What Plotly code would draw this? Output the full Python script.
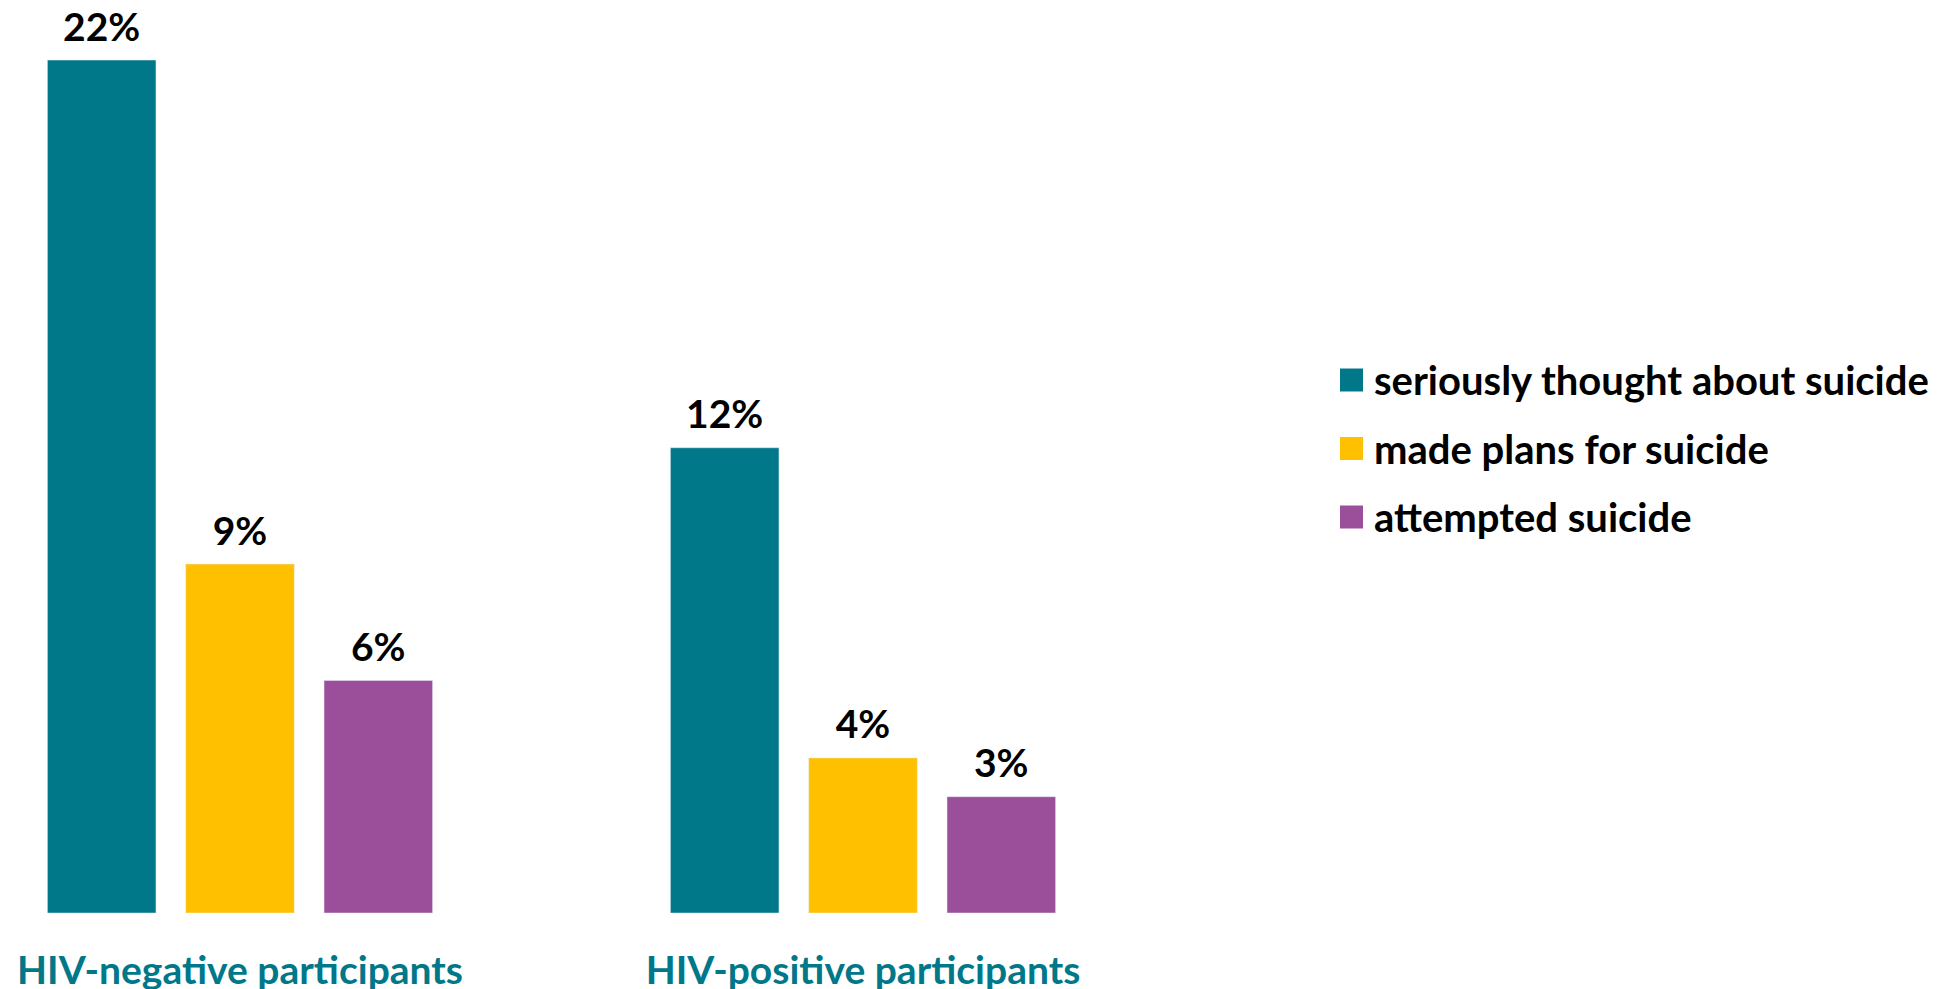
import plotly.graph_objects as go

categories = ["HIV-negative participants", "HIV-positive participants"]
series_names = ["seriously thought about suicide", "made plans for suicide", "attempted suicide"]
values = {
    "seriously thought about suicide": [22, 12],
    "made plans for suicide": [9, 4],
    "attempted suicide": [6, 3],
}
colors = ["#00788A", "#FFC000", "#9B4F9A"]

# page has an 8px body margin; figure is sized to fit the 1960x989 window
W, H = 1952, 981
ML, MR, MT, MB = 0, 652, 20, 76
PW, PH = W - ML - MR, H - MT - MB
FONT = "Lato"
FS = 39
CAT_PX = 623.0
CENTER0 = 232.0
PX_PER_PCT = 38.77

fig = go.Figure()
for name, col in zip(series_names, colors):
    vals = values[name]
    fig.add_trace(go.Bar(
        x=categories, y=vals, name=name, marker_color=col,
        offsetgroup=name, alignmentgroup="a",
        showlegend=False, hoverinfo="skip",
    ))
for name in series_names:
    vals = values[name]
    fig.add_trace(go.Scatter(
        x=categories, y=vals, mode="text+markers",
        marker=dict(size=14, opacity=0),
        text=[f"{v}%" for v in vals], textposition="top center",
        textfont=dict(family=FONT, size=FS, color="black", weight="bold"),
        offsetgroup=name, alignmentgroup="a",
        cliponaxis=False, showlegend=False, hoverinfo="skip",
    ))

def px2paper_x(px):
    return (px - ML) / PW

def px2paper_y(py):
    return (H - MB - py) / PH

shapes, annotations = [], []
for i, (name, col) in enumerate(zip(series_names, colors)):
    cy = 372 + i * 68.5
    shapes.append(dict(type="rect", xref="paper", yref="paper",
                       x0=px2paper_x(1332), x1=px2paper_x(1355),
                       y0=px2paper_y(cy + 11.5), y1=px2paper_y(cy - 11.5),
                       fillcolor=col, line=dict(width=0)))
    annotations.append(dict(xref="paper", yref="paper", x=px2paper_x(1364), y=px2paper_y(cy),
                            text=name, showarrow=False, xanchor="left", yanchor="middle",
                            font=dict(family=FONT, size=40, color="black", weight="bold")))

fig.update_layout(
    width=W, height=H,
    margin=dict(l=ML, r=MR, t=MT, b=MB, autoexpand=False),
    paper_bgcolor="white", plot_bgcolor="white",
    barmode="group", bargap=0.334, bargroupgap=0.215,
    scattermode="group", scattergap=0.334,
    shapes=shapes, annotations=annotations,
    showlegend=False,
    xaxis=dict(range=[-CENTER0 / CAT_PX, (PW - CENTER0) / CAT_PX], showgrid=False, showline=False,
               zeroline=False, ticks="", ticklabelstandoff=31,
               tickfont=dict(family=FONT, size=FS, color="#00788A", weight="bold")),
    yaxis=dict(range=[0, PH / PX_PER_PCT], visible=False),
)

fig.write_html("out.html")
